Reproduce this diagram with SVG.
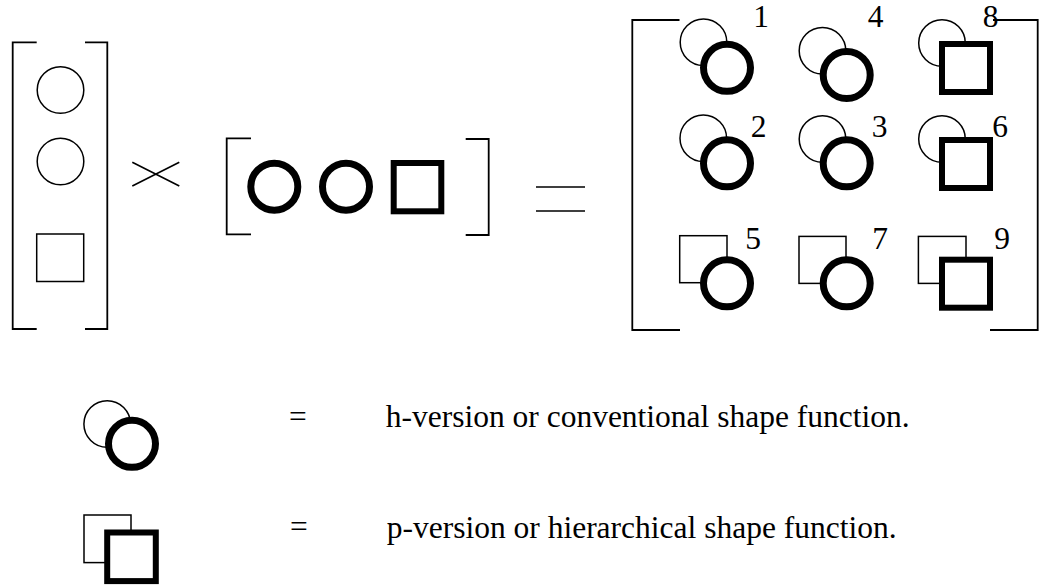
<svg xmlns="http://www.w3.org/2000/svg" width="1039" height="586" viewBox="0 0 1039 586">
<style>
.thin{fill:#fff;stroke:#000;stroke-width:1.5}
.br{fill:none;stroke:#000;stroke-width:1.8}
.tc{fill:#fff;stroke:#000;stroke-width:7}
.ts{fill:#fff;stroke:#000;stroke-width:6}
.op{stroke:#000;stroke-width:1.6;fill:none}
.num{font-family:"Liberation Serif","Times New Roman",serif;font-size:31.5px;fill:#000;text-anchor:middle}
.lbl{font-family:"Liberation Serif","Times New Roman",serif;font-size:31.5px;fill:#000}
</style>
<rect width="1039" height="586" fill="#fff"/>

<g id="left-matrix">
  <path class="br" d="M36.7,42.3 H12.7 V329 H36.7 M85,42.3 H107.3 V329 H85"/>
  <circle class="thin" cx="60.5" cy="90" r="23.3"/>
  <circle class="thin" cx="60.5" cy="161.5" r="23.3"/>
  <rect class="thin" x="36.7" y="234" width="47" height="47.5"/>
</g>

<g id="times-sign">
  <path class="op" d="M132.3,162.3 L179.3,186 M132.3,186 L179.3,162.3"/>
</g>

<g id="row-matrix">
  <path class="br" d="M251,138.3 H226.7 V234.3 H251 M465.7,139 H488.7 V235 H465.7"/>
  <circle class="tc" cx="274.3" cy="186.7" r="23.5"/>
  <circle class="tc" cx="346" cy="186.7" r="23.5"/>
  <rect class="ts" x="393.7" y="163" width="47.6" height="48.3"/>
</g>

<g id="equals-sign">
  <path class="op" d="M536,187 H585 M536,211 H585"/>
</g>

<g id="result-matrix">
  <path class="br" d="M679.5,20 H632.3 V330 H680 M993,20 H1037.7 V330 H990"/>
</g>

<g id="e1">
  <circle class="thin" cx="703.5" cy="42.3" r="23.3"/>
  <circle class="tc" cx="727" cy="67.8" r="23.5"/>
  <text class="num" x="761" y="27">1</text>
</g>
<g id="e4">
  <circle class="thin" cx="822.5" cy="50.7" r="23.3"/>
  <circle class="tc" cx="846.7" cy="75" r="23.5"/>
  <text class="num" x="875.5" y="27">4</text>
</g>
<g id="e8">
  <circle class="thin" cx="942" cy="43" r="23.3"/>
  <rect class="ts" x="942" y="44" width="48" height="48"/>
  <text class="num" x="990.5" y="27">8</text>
</g>

<g id="e2">
  <circle class="thin" cx="703.3" cy="138.3" r="23.3"/>
  <circle class="tc" cx="727" cy="163.3" r="23.5"/>
  <text class="num" x="758.7" y="137">2</text>
</g>
<g id="e3">
  <circle class="thin" cx="822.5" cy="139" r="23.3"/>
  <circle class="tc" cx="846.7" cy="163.3" r="23.5"/>
  <text class="num" x="879.7" y="137">3</text>
</g>
<g id="e6">
  <circle class="thin" cx="942" cy="139" r="23.3"/>
  <rect class="ts" x="942" y="140" width="48" height="48"/>
  <text class="num" x="1000" y="137">6</text>
</g>

<g id="e5">
  <rect class="thin" x="679.7" y="235.7" width="47.3" height="47"/>
  <circle class="tc" cx="727" cy="283.3" r="23.5"/>
  <text class="num" x="753" y="248.5">5</text>
</g>
<g id="e7">
  <rect class="thin" x="799" y="236.4" width="47" height="47"/>
  <circle class="tc" cx="846.7" cy="283.3" r="23.5"/>
  <text class="num" x="880" y="248.5">7</text>
</g>
<g id="e9">
  <rect class="thin" x="918.4" y="236.4" width="47.6" height="47"/>
  <rect class="ts" x="942" y="259.7" width="48" height="48"/>
  <text class="num" x="1002" y="248.5">9</text>
</g>

<g id="legend-h">
  <circle class="thin" cx="107.2" cy="424" r="23.3"/>
  <circle class="tc" cx="132" cy="443.8" r="23.5"/>
  <text class="lbl" x="289" y="427">=</text>
  <text class="lbl" x="385.7" y="427">h-version or conventional shape function.</text>
</g>

<g id="legend-p">
  <rect class="thin" x="84" y="515" width="47" height="47.6"/>
  <rect class="ts" x="107.2" y="532.5" width="48.6" height="48.6"/>
  <text class="lbl" x="290" y="537">=</text>
  <text class="lbl" x="386.7" y="538">p-version or hierarchical shape function.</text>
</g>
</svg>
